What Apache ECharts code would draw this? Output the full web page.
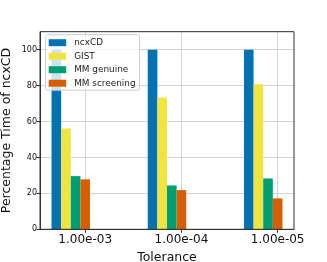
<!DOCTYPE html>
<html>
<head>
<meta charset="utf-8">
<script src="https://cdn.jsdelivr.net/npm/echarts@6/dist/echarts.min.js"></script>
<style>html,body{margin:0;padding:0;background:#fff;}#c{width:327px;height:262px;}</style>
</head>
<body>
<div id="c"></div>
<script>
const categories = ['1.00e-03', '1.00e-04', '1.00e-05'];
const seriesNames = ['ncxCD', 'GIST', 'MM genuine', 'MM screening'];
const ncxCD = [100, 100, 100];
const gist = [56.1, 73.4, 80.7];
const mmGenuine = [29.6, 24.4, 28.3];
const mmScreening = [27.8, 21.8, 17.2];
const yTicks = [0, 20, 40, 60, 80, 100];
const colors = ['#0072B2', '#F0E442', '#009E73', '#D55E00'];

const allValues = [ncxCD, gist, mmGenuine, mmScreening];
const barW = 0.1;
const offsets = [-0.3, -0.2, -0.1, 0.0];
const FONT = 'DejaVu Sans';

const chart = echarts.init(document.getElementById('c'), null, {renderer: 'canvas'});
const series = seriesNames.map((name, s) => ({
  name: name,
  type: 'custom',
  coordinateSystem: 'cartesian2d',
  itemStyle: {color: colors[s]},
  encode: {x: 0, y: 1},
  data: allValues[s].map((v, i) => [i + offsets[s], v]),
  renderItem: function (params, api) {
    const x = api.value(0), y = api.value(1);
    const p0 = api.coord([x - barW / 2, y]);
    const p1 = api.coord([x + barW / 2, 0]);
    return {
      type: 'rect',
      shape: {x: p0[0], y: p0[1], width: p1[0] - p0[0], height: p1[1] - p0[1]},
      style: {fill: colors[s]}
    };
  },
  z: 2
}));

chart.setOption({
  animation: false,
  grid: {left: 40, right: 33, top: 31.7, bottom: 32.7, show: false, containLabel: false, outerBoundsMode: 'none'},
  legend: {
    data: seriesNames.map(n => ({name: n, icon: 'rect'})),
    orient: 'vertical',
    left: 45.7, top: 34.7,
    itemWidth: 17.5, itemHeight: 7,
    itemGap: 4.5,
    padding: [3.5, 4, 2.5, 3],
    backgroundColor: 'rgba(255,255,255,0.8)',
    borderColor: '#cccccc', borderWidth: 1, borderRadius: 2,
    textStyle: {fontFamily: FONT, fontSize: 8.9, color: '#222', lineHeight: 9, padding: [0, 0, 0, 3]},
    z: 10
  },
  xAxis: {
    type: 'value',
    min: -0.47, max: 2.17,
    name: 'Tolerance',
    nameLocation: 'middle', nameGap: 22,
    nameMoveOverlap: false,
    nameTextStyle: {fontFamily: FONT, fontSize: 12.5, color: '#111'},
    axisLine: {show: true, onZero: false, lineStyle: {color: '#333', width: 1}},
    axisTick: {show: true, length: 3.5, inside: false, customValues: [0, 1, 2], lineStyle: {color: '#333'}},
    axisLabel: {
      customValues: [0, 1, 2],
      formatter: v => categories[Math.round(v)] || '',
      fontFamily: FONT, fontSize: 12, color: '#111', margin: 5
    },
    splitLine: {show: true, lineStyle: {color: '#d3d3d3', width: 1}}
  },
  yAxis: {
    type: 'value',
    min: 0, max: 110, interval: 20,
    name: 'Percentage Time of ncxCD',
    nameLocation: 'middle', nameGap: 27,
    nameMoveOverlap: false,
    nameTextStyle: {fontFamily: FONT, fontSize: 12.5, color: '#111'},
    axisLine: {show: true, onZero: false, lineStyle: {color: '#333', width: 1}},
    axisTick: {show: true, length: 3.5, lineStyle: {color: '#333'}},
    axisLabel: {
      fontFamily: FONT, fontSize: 8, color: '#111', margin: 3,
      showMaxLabel: false,
      formatter: v => yTicks.indexOf(v) >= 0 ? String(v) : ''
    },
    splitLine: {show: true, lineStyle: {color: '#d3d3d3', width: 1}}
  },
  series: series,
  graphic: [{
    type: 'rect', z: 20, silent: true,
    shape: {x: 40, y: 31.7, width: 254, height: 197.6},
    style: {fill: 'none', stroke: '#333', lineWidth: 1}
  }]
});
</script>
</body>
</html>
